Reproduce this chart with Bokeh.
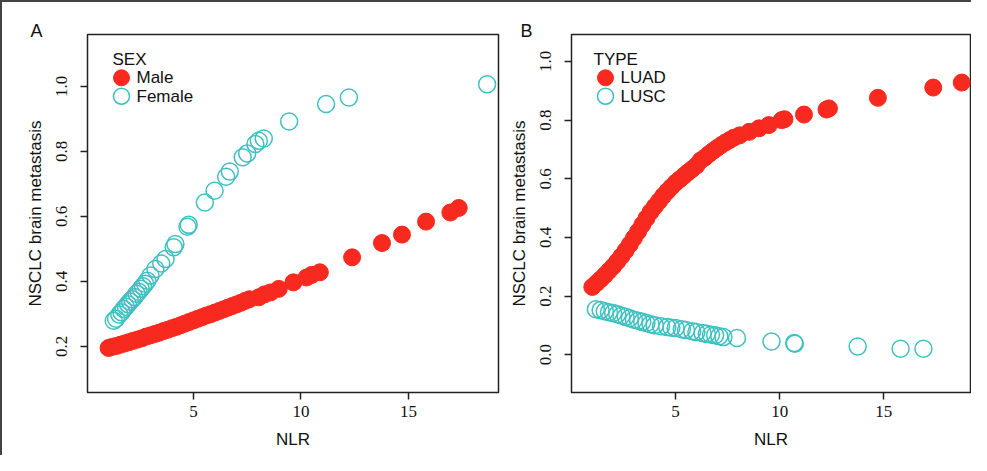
from bokeh.plotting import figure
from bokeh.layouts import row
from bokeh.models import Range1d, FixedTicker, PrintfTickFormatter, Label, Title
from bokeh.embed import file_html
from bokeh.resources import INLINE

# ---------------- data ----------------
x_ticks = [5, 10, 15]
yA_ticks = [0.2, 0.4, 0.6, 0.8, 1.0]
yB_ticks = [0.0, 0.2, 0.4, 0.6, 0.8, 1.0]

male_x = [1.05, 1.2, 1.4, 1.6, 1.8, 2.0, 2.2, 2.4, 2.6, 2.8, 3.0, 3.2, 3.4, 3.6, 3.8,
          4.0, 4.2, 4.4, 4.6, 4.8, 5.0, 5.2, 5.4, 5.6, 5.8, 6.0, 6.2, 6.4, 6.6, 6.8,
          7.0, 7.2, 7.4, 7.6, 8.04, 8.3, 8.58, 8.97, 9.65, 10.26, 10.5, 10.88,
          12.38, 13.77, 14.7, 15.82, 16.95, 17.34]
male_y = [0.195, 0.198, 0.201, 0.205, 0.209, 0.213, 0.217, 0.221, 0.225, 0.230, 0.234,
          0.238, 0.242, 0.247, 0.251, 0.256, 0.260, 0.265, 0.270, 0.275, 0.280, 0.285,
          0.290, 0.295, 0.299, 0.304, 0.309, 0.314, 0.319, 0.324, 0.329, 0.334, 0.340,
          0.345, 0.351, 0.360, 0.366, 0.377, 0.397, 0.412, 0.420, 0.428,
          0.474, 0.518, 0.544, 0.584, 0.612, 0.626]

female_x = [1.29, 1.40, 1.55, 1.65, 1.75, 1.85, 1.95, 2.05, 2.15, 2.25, 2.35, 2.45,
            2.55, 2.65, 2.75, 2.85, 3.0, 3.23, 3.5, 3.7, 4.08, 4.16, 4.72, 4.78,
            5.53, 5.98, 6.52, 6.69, 7.29, 7.50, 7.88, 8.04, 8.27, 9.45, 11.17, 12.23, 18.66]
female_y = [0.279, 0.285, 0.298, 0.305, 0.315, 0.322, 0.330, 0.338, 0.345, 0.352, 0.362,
            0.368, 0.377, 0.385, 0.393, 0.402, 0.418, 0.438, 0.455, 0.469, 0.505, 0.515,
            0.568, 0.574, 0.643, 0.679, 0.722, 0.738, 0.782, 0.794, 0.823, 0.833, 0.840,
            0.892, 0.946, 0.966, 1.007]

luad_x = [1.0, 1.2, 1.4, 1.6, 1.8, 2.0, 2.2, 2.4, 2.6, 2.8, 3.0, 3.2, 3.4, 3.6, 3.8,
          4.0, 4.2, 4.4, 4.6, 4.8, 5.0, 5.2, 5.4, 5.6, 5.8, 6.0, 6.2, 6.4, 6.6, 6.8,
          7.0, 7.2, 7.4, 7.6, 7.8, 8.08, 8.54, 9.01, 9.48, 10.1, 10.23, 11.17,
          12.25, 12.37, 14.72, 17.38, 18.75]
luad_y = [0.231, 0.244, 0.257, 0.271, 0.286, 0.301, 0.318, 0.336, 0.355, 0.376, 0.398,
          0.420, 0.443, 0.465, 0.487, 0.505, 0.523, 0.541, 0.557, 0.572, 0.586, 0.598,
          0.610, 0.622, 0.633, 0.645, 0.662, 0.672, 0.684, 0.695, 0.705, 0.715, 0.724,
          0.732, 0.740, 0.748, 0.760, 0.772, 0.783, 0.800, 0.803, 0.819,
          0.836, 0.840, 0.876, 0.911, 0.928]

lusc_x = [1.17, 1.4, 1.6, 1.8, 2.0, 2.2, 2.4, 2.6, 2.8, 3.0, 3.2, 3.4, 3.6, 3.8, 4.0,
          4.3, 4.6, 4.8, 5.0, 5.3, 5.5, 5.8, 6.0, 6.3, 6.5, 6.7, 6.9, 7.1, 7.3, 7.95,
          9.61, 10.7, 10.73, 13.75, 15.81, 16.91]
lusc_y = [0.155, 0.152, 0.148, 0.145, 0.142, 0.138, 0.133, 0.129, 0.124, 0.119, 0.116,
          0.112, 0.108, 0.104, 0.100, 0.097, 0.094, 0.092, 0.091, 0.087, 0.084, 0.080,
          0.077, 0.074, 0.071, 0.068, 0.066, 0.063, 0.060, 0.057,
          0.045, 0.040, 0.037, 0.028, 0.020, 0.020]

RED = "#F8291F"
CYAN = "#3FC0C0"
DARK = "#222222"
SANS = "Liberation Sans"
SERIF = "Liberation Serif"

FH = 358  # frame height in px


def make_panel(width, xr, yr, yticks, bl, br, fw, letter, letter_off, leg_title, tx,
               names, series):
    p = figure(width=width, height=453, x_range=Range1d(*xr), y_range=Range1d(*yr),
               output_backend="svg", toolbar_location=None,
               min_border_left=bl, min_border_right=br, min_border_top=32, min_border_bottom=63)
    p.title = Title(text=letter, align="left", offset=letter_off, standoff=-12,
                    text_font=SANS, text_font_size="18px", text_font_style="normal",
                    text_color="#111111")
    p.xgrid.visible = False
    p.ygrid.visible = False
    p.background_fill_color = "white"
    p.border_fill_color = "white"
    p.outline_line_color = DARK
    p.outline_line_width = 1.5
    p.extra_x_ranges = {"px": Range1d(0, fw)}
    p.extra_y_ranges = {"py": Range1d(0, FH)}

    for ax in (p.xaxis[0], p.yaxis[0]):
        ax.axis_line_color = None
        ax.major_tick_out = 7
        ax.major_tick_in = 0
        ax.minor_tick_line_color = None
        ax.major_tick_line_color = DARK
        ax.major_tick_line_width = 1.5
        ax.major_label_text_font = SERIF
        ax.major_label_text_font_size = "17px"
        ax.major_label_text_color = "#111111"
        ax.axis_label_text_font = SANS
        ax.axis_label_text_font_size = "17px"
        ax.axis_label_text_font_style = "normal"
        ax.axis_label_text_color = "#111111"
    p.xaxis.ticker = FixedTicker(ticks=x_ticks)
    p.yaxis.ticker = FixedTicker(ticks=yticks)
    p.yaxis.formatter = PrintfTickFormatter(format="%.1f")
    p.yaxis.major_label_orientation = "vertical"
    p.xaxis.major_label_standoff = 6
    p.yaxis.major_label_standoff = 13
    p.xaxis.axis_label = "NLR"
    p.yaxis.axis_label = "NSCLC brain metastasis"
    p.xaxis.axis_label_standoff = 10
    p.yaxis.axis_label_standoff = 9

    (fx, fy), (ox, oy) = series
    p.scatter(fx, fy, size=17, fill_color=RED, line_color=RED, line_width=1)
    p.scatter(ox, oy, size=17, fill_color=None, line_color=CYAN, line_width=1.5)

    # legend (positions in frame pixels)
    lx = 34
    p.add_layout(Label(x=tx, y=FH - 25.3, x_range_name="px", y_range_name="py",
                       text=leg_title, text_font=SANS, text_font_size="17px",
                       text_align="left", text_baseline="middle", text_color="#111111"))
    p.scatter([lx], [FH - 43.3], x_range_name="px", y_range_name="py", size=16,
              fill_color=RED, line_color=RED)
    p.scatter([lx], [FH - 61.7], x_range_name="px", y_range_name="py", size=16,
              fill_color=None, line_color=CYAN, line_width=1.5)
    p.add_layout(Label(x=lx + 15, y=FH - 43.3, x_range_name="px", y_range_name="py",
                       text=names[0], text_font=SANS, text_font_size="17px",
                       text_align="left", text_baseline="middle", text_color="#111111"))
    p.add_layout(Label(x=lx + 15, y=FH - 61.7, x_range_name="px", y_range_name="py",
                       text=names[1], text_font=SANS, text_font_size="17px",
                       text_align="left", text_baseline="middle", text_color="#111111"))
    return p


pa = make_panel(498, (0.07, 19.19), (0.058, 1.16), yA_ticks, 85, 2, 411, "A", -57, "SEX", 25,
                ["Male", "Female"], ((male_x, male_y), (female_x, female_y)))
pb = make_panel(471, (0.0, 19.17), (-0.129, 1.092), yB_ticks, 71, 1, 399, "B", -51, "TYPE", 22,
                ["LUAD", "LUSC"], ((luad_x, luad_y), (lusc_x, lusc_y)))

layout = row(pa, pb, styles={"border-left": "2px solid #444", "border-top": "2px solid #444"})
open("out.html", "w").write(file_html(layout, INLINE))
